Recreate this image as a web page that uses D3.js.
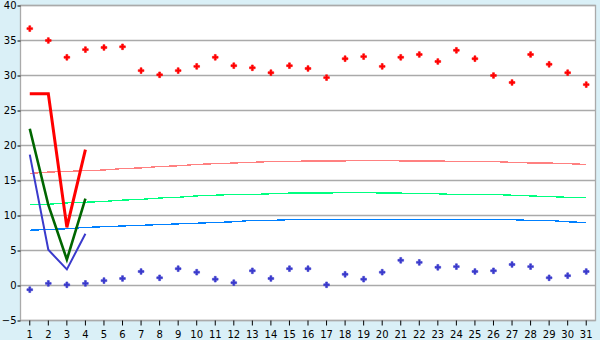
<!DOCTYPE html>
<meta charset="utf-8">
<style>
    html, body {
        margin: 0;
        padding: 0;
        background: #daf0f7;
    }
    svg {
        display: block;
        font: 10px "DejaVu Sans", sans-serif;
    }
    .axis text {
        fill: #000;
    }
    .axis line {
        stroke: #000;
    }
</style>
<body>
<div id="chart"></div>
<script src="https://cdnjs.cloudflare.com/ajax/libs/d3/7.8.5/d3.min.js"></script>
<script>
    var days = d3.range(1, 32);
    var yTicks = [-5, 0, 5, 10, 15, 20, 25, 30, 35, 40];

    // daily observed maxima / minima (markers)
    var dailyHigh = [36.7, 35.0, 32.6, 33.7, 34.0, 34.1, 30.7, 30.1, 30.7, 31.3,
                     32.6, 31.4, 31.1, 30.4, 31.4, 31.0, 29.7, 32.4, 32.7, 31.3,
                     32.6, 33.0, 32.0, 33.6, 32.4, 30.0, 29.0, 33.0, 31.6, 30.4, 28.7];
    var dailyLow = [-0.6, 0.3, 0.1, 0.3, 0.7, 1.0, 2.0, 1.1, 2.4, 1.9,
                    0.9, 0.4, 2.1, 1.0, 2.4, 2.4, 0.1, 1.6, 0.9, 1.9,
                    3.6, 3.3, 2.6, 2.7, 2.0, 2.1, 3.0, 2.7, 1.1, 1.4, 2.0];

    // normals (thin lines)
    var normHigh = [16.0, 16.2, 16.3, 16.4, 16.5, 16.7, 16.8, 17.0, 17.1, 17.3,
                    17.4, 17.5, 17.6, 17.7, 17.7, 17.8, 17.8, 17.8, 17.9, 17.9,
                    17.8, 17.8, 17.8, 17.7, 17.7, 17.7, 17.6, 17.5, 17.5, 17.4, 17.3];
    var normMean = [11.6, 11.6, 11.8, 11.9, 12.0, 12.2, 12.3, 12.5, 12.6, 12.8,
                    12.9, 13.0, 13.0, 13.1, 13.2, 13.2, 13.2, 13.3, 13.3, 13.2,
                    13.2, 13.1, 13.1, 13.0, 13.0, 13.0, 12.9, 12.8, 12.7, 12.6, 12.6];
    var normLow = [7.9, 8.0, 8.1, 8.3, 8.4, 8.5, 8.6, 8.7, 8.8, 8.9,
                   9.0, 9.1, 9.3, 9.3, 9.4, 9.4, 9.4, 9.4, 9.4, 9.4,
                   9.4, 9.4, 9.4, 9.4, 9.4, 9.4, 9.4, 9.3, 9.3, 9.1, 9.0];

    // current month so far (thick lines)
    var curHigh = [27.4, 27.4, 8.3, 19.4];
    var curMean = [22.4, 11.5, 3.7, 12.4];
    var curLow = [18.7, 5.1, 2.3, 7.4];

    var width = 600, height = 340;

    var x = d3.scaleBand().domain(days).range([20.5, 595.5]);
    var y = d3.scaleLinear().domain([-5, 40]).range([320.5, 5.5]);

    var svg = d3.select("#chart").append("svg")
        .attr("width", width)
        .attr("height", height);

    svg.append("rect")
        .attr("width", width)
        .attr("height", height)
        .attr("fill", "#daf0f7");

    svg.append("rect")
        .attr("x", x.range()[0])
        .attr("y", y.range()[1])
        .attr("width", x.range()[1] - x.range()[0])
        .attr("height", y.range()[0] - y.range()[1])
        .attr("fill", "#fff");

    // gridlines
    svg.append("g").selectAll("line")
        .data(yTicks)
        .enter().append("line")
        .attr("x1", x.range()[0])
        .attr("x2", x.range()[1])
        .attr("y1", function(d) { return y(d); })
        .attr("y2", function(d) { return y(d); })
        .attr("stroke", "#aaa")
        .attr("stroke-width", 1.3);

    function cx(d, i) { return x(days[i]) + x.bandwidth() / 2; }

    var line = d3.line()
        .x(function(d, i) { return cx(d, i); })
        .y(function(d) { return y(d); });

    var thin = [[normHigh, "#ff8080"], [normMean, "#00ff80"], [normLow, "#0080ff"]];
    thin.forEach(function(s) {
        svg.append("path")
            .datum(s[0])
            .attr("d", line)
            .attr("fill", "none")
            .attr("stroke", s[1])
            .attr("stroke-width", 1.3)
            .attr("shape-rendering", "crispEdges");
    });

    var thick = [[curLow, "#3a3acc", 2], [curMean, "#006600", 2.6], [curHigh, "#ff0000", 3]];
    thick.forEach(function(s) {
        svg.append("path")
            .datum(s[0])
            .attr("d", line)
            .attr("fill", "none")
            .attr("stroke", s[1])
            .attr("stroke-width", s[2])
            .attr("stroke-linejoin", "miter");
    });

    var cross = d3.symbol().type(d3.symbolCross).size(18);

    [[dailyHigh, "#ff0000"], [dailyLow, "#3a3acc"]].forEach(function(s) {
        svg.append("g").selectAll("path")
            .data(s[0])
            .enter().append("path")
            .attr("d", cross)
            .attr("transform", function(d, i) {
                return "translate(" + cx(d, i) + "," + y(d) + ")";
            })
            .attr("fill", s[1])
            .attr("stroke", s[1])
            .attr("stroke-width", 0.6);
    });

    // frame
    svg.append("rect")
        .attr("x", x.range()[0])
        .attr("y", y.range()[1])
        .attr("width", x.range()[1] - x.range()[0])
        .attr("height", y.range()[0] - y.range()[1])
        .attr("fill", "none")
        .attr("stroke", "#aaa")
        .attr("stroke-width", 1.3);

    var xAxis = d3.axisBottom(x).tickSize(5).tickPadding(5);
    var yAxis = d3.axisLeft(y).tickValues(yTicks).tickSize(3).tickPadding(1);

    svg.append("g")
        .attr("class", "axis")
        .attr("transform", "translate(0," + y.range()[0] + ")")
        .call(xAxis)
        .call(function(g) { g.select(".domain").remove(); });

    svg.append("g")
        .attr("class", "axis")
        .attr("transform", "translate(" + x.range()[0] + ",0)")
        .call(yAxis)
        .call(function(g) { g.select(".domain").remove(); });

    svg.selectAll(".axis text").attr("font-family", "DejaVu Sans").attr("font-size", 10);
</script>
</body>
